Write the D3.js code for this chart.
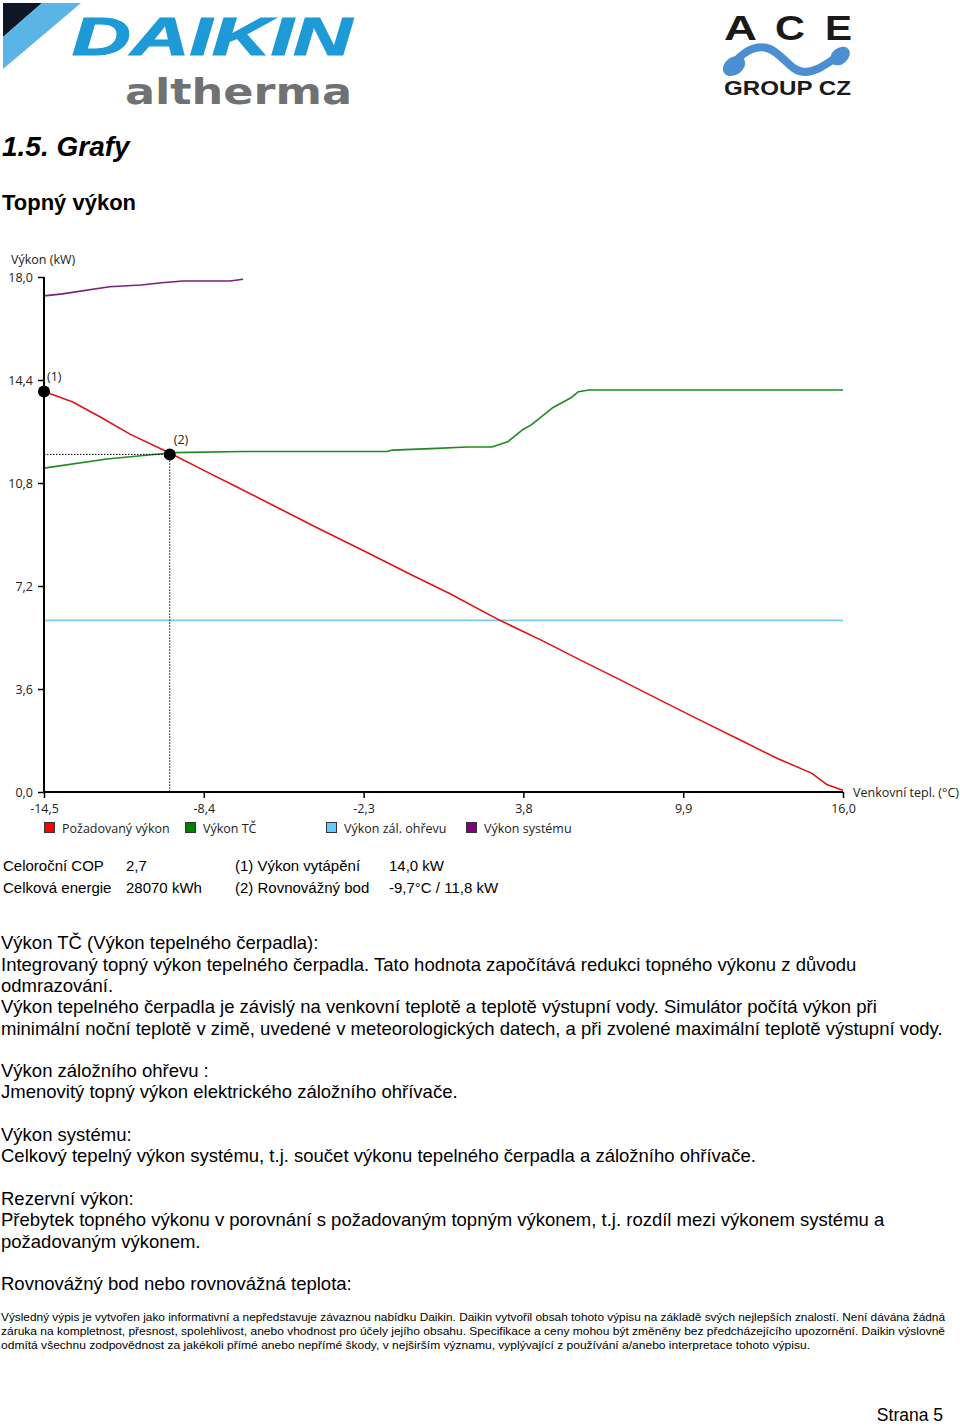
<!DOCTYPE html>
<html>
<head>
<meta charset="utf-8">
<script src="https://cdn.jsdelivr.net/npm/d3@7"></script>
<style>
  html,body{margin:0;padding:0;background:#fff;}
  svg{display:block;}
</style>
</head>
<body>
<svg id="page" width="960" height="1426"></svg>
<script>
// ---------- DATA ----------
const tempTicks = [-14.5, -8.4, -2.3, 3.8, 9.9, 16.0];
const powerTicks = [0, 3.6, 7.2, 10.8, 14.4, 18.0];

const requiredTemp  = [-14.5,-13.4,-12.3,-11.2,-9.7,-8.4,-7.0,-5.5,-4.0,-2.3,-0.5,1.0,2.9,4.5,6.0,7.5,9.0,10.5,12.0,13.5,14.8,15.4,16.0];
const requiredPower = [14.0,13.63,13.08,12.5,11.85,11.24,10.6,9.9,9.2,8.43,7.6,6.93,6.0,5.3,4.6,3.92,3.22,2.53,1.85,1.17,0.66,0.25,0.06];

const hpTemp  = [-14.5,-12.1,-9.7,-9.5,-6.9,-1.4,-1.2,0.5,1.65,2.6,3.2,3.75,4.1,4.9,5.6,5.9,6.3,16.0];
const hpPower = [11.32,11.64,11.85,11.86,11.9,11.9,11.95,12.01,12.06,12.06,12.24,12.65,12.83,13.42,13.77,13.99,14.05,14.05];

const backupTemp  = [-14.5, 16.0];
const backupPower = [6.0, 6.0];

const systemTemp  = [-14.5,-13.8,-12.0,-10.8,-10.0,-9.2,-7.4,-6.9];
const systemPower = [17.34,17.41,17.66,17.72,17.8,17.86,17.86,17.92];

const designPoint  = {t: -14.5, p: 14.0, label: "(1)"};
const balancePoint = {t: -9.7,  p: 11.8, label: "(2)"};

const legendLabels = ["Požadovaný výkon", "Výkon TČ", "Výkon zál. ohřevu", "Výkon systému"];
const legendColors = ["#ff0000", "#008000", "#66ccff", "#800080"];
const lineColors   = ["#e01414", "#1f8a1f", "#7cc8ee", "#7a1f7a"];

const tableRows = [
  ["Celoroční COP", "2,7", "(1) Výkon vytápění", "14,0 kW"],
  ["Celková energie", "28070 kWh", "(2) Rovnovážný bod", "-9,7°C / 11,8 kW"]
];

const bodyLines = [
  ["Výkon TČ (Výkon tepelného čerpadla):", 943],
  ["Integrovaný topný výkon tepelného čerpadla. Tato hodnota započítává redukci topného výkonu z důvodu", 965],
  ["odmrazování.", 986],
  ["Výkon tepelného čerpadla je závislý na venkovní teplotě a teplotě výstupní vody. Simulátor počítá výkon při", 1007],
  ["minimální noční teplotě v zimě, uvedené v meteorologických datech, a při zvolené maximální teplotě výstupní vody.", 1029],
  ["Výkon záložního ohřevu :", 1071],
  ["Jmenovitý topný výkon elektrického záložního ohřívače.", 1092],
  ["Výkon systému:", 1135],
  ["Celkový tepelný výkon systému, t.j. součet výkonu tepelného čerpadla a záložního ohřívače.", 1156],
  ["Rezervní výkon:", 1199],
  ["Přebytek topného výkonu v porovnání s požadovaným topným výkonem, t.j. rozdíl mezi výkonem systému a", 1220],
  ["požadovaným výkonem.", 1242],
  ["Rovnovážný bod nebo rovnovážná teplota:", 1284]
];

const footerLines = [
  ["Výsledný výpis je vytvořen jako informativní a nepředstavuje závaznou nabídku Daikin. Daikin vytvořil obsah tohoto výpisu na základě svých nejlepších znalostí. Není dávána žádná", 1317, 944],
  ["záruka na kompletnost, přesnost, spolehlivost, anebo vhodnost pro účely jejího obsahu. Specifikace a ceny mohou být změněny bez předcházejícího upozornění. Daikin výslovně", 1331, 944],
  ["odmítá všechnu zodpovědnost za jakékoli přímé anebo nepřímé škody, v nejširším významu, vyplývající z používání a/anebo interpretace tohoto výpisu.", 1345, 809]
];

// ---------- DRAW ----------
const svg = d3.select("#page");
const axisFont = "'Open Sans', 'Noto Sans', sans-serif";
const docFont = "'Liberation Sans', Arial, sans-serif";

// Logos
const logo = svg.append("g");
logo.append("polygon").attr("points", "3,3 42,3 3,37").attr("fill", "#0d1726");
logo.append("polygon").attr("points", "42,3 81,3 3,69 3,37").attr("fill", "#5ab4e5");
logo.append("text").attr("x", 72).attr("y", 55).text("DAIKIN")
  .attr("font-family", docFont).attr("font-weight", "bold").attr("font-style", "italic")
  .attr("font-size", 54).attr("fill", "#1e9ad6").attr("stroke", "#1e9ad6").attr("stroke-width", 1.2)
  .attr("textLength", 280).attr("lengthAdjust", "spacingAndGlyphs");
logo.append("text").attr("x", 125).attr("y", 104).text("altherma")
  .attr("font-family", "'DejaVu Sans', sans-serif").attr("font-weight", "bold").attr("font-size", 36).attr("fill", "#707173")
  .attr("textLength", 227).attr("lengthAdjust", "spacingAndGlyphs");

const ace = svg.append("g");
[["A", 724, 33], ["C", 775, 30], ["E", 825, 27]].forEach(([ch, x, w]) => {
  ace.append("text").attr("x", x).attr("y", 40).text(ch)
    .attr("font-family", docFont).attr("font-weight", "bold").attr("font-size", 35)
    .attr("fill", "#1a1a1a").attr("textLength", w).attr("lengthAdjust", "spacingAndGlyphs");
});
ace.append("path").attr("d", "M732,67 C741,52 755,45 767,48 C782,52 790,72 805,72 C820,72 832,58 842,55")
  .attr("fill", "none").attr("stroke", "#4b8fd2").attr("stroke-width", 8).attr("stroke-linecap", "round");
ace.append("ellipse").attr("cx", 734).attr("cy", 66).attr("rx", 12).attr("ry", 9)
  .attr("transform", "rotate(-35 734 66)").attr("fill", "#4b8fd2");
ace.append("ellipse").attr("cx", 840).attr("cy", 56).attr("rx", 11).attr("ry", 8)
  .attr("transform", "rotate(-40 840 56)").attr("fill", "#4b8fd2");
ace.append("text").attr("x", 724).attr("y", 95).text("GROUP CZ")
  .attr("font-family", docFont).attr("font-weight", "bold").attr("font-size", 20)
  .attr("fill", "#1a1a1a").attr("textLength", 127).attr("lengthAdjust", "spacingAndGlyphs");

// Headings
svg.append("text").attr("x", 2).attr("y", 156).text("1.5. Grafy")
  .attr("font-family", docFont).attr("font-weight", "bold").attr("font-style", "italic")
  .attr("font-size", 28).attr("fill", "#000");
svg.append("text").attr("x", 2).attr("y", 210).text("Topný výkon")
  .attr("font-family", docFont).attr("font-weight", "bold")
  .attr("font-size", 22).attr("fill", "#000");

// Scales
const x = d3.scaleLinear().domain([-14.5, 16.0]).range([44, 843]);
const y = d3.scaleLinear().domain([0, 18.0]).range([792, 277]);
const fmt = d => d.toFixed(1).replace(".", ",");

const chart = svg.append("g");

// Series lines
const line = (ts, ps) => d3.line().x((d, i) => x(ts[i])).y((d, i) => y(ps[i]))(ts);
const series = [
  [backupTemp, backupPower, lineColors[2]],
  [systemTemp, systemPower, lineColors[3]],
  [hpTemp, hpPower, lineColors[1]],
  [requiredTemp, requiredPower, lineColors[0]]
];
series.forEach(([ts, ps, c]) => {
  chart.append("path").attr("d", line(ts, ps)).attr("fill", "none")
    .attr("stroke", c).attr("stroke-width", 1.6).attr("stroke-linejoin", "round");
});

// Dotted guide lines for balance point
chart.append("line").attr("x1", x(-14.5)).attr("x2", x(balancePoint.t))
  .attr("y1", y(balancePoint.p)).attr("y2", y(balancePoint.p))
  .attr("stroke", "#000").attr("stroke-width", 1).attr("stroke-dasharray", "1.5,1.5");
chart.append("line").attr("x1", x(balancePoint.t)).attr("x2", x(balancePoint.t))
  .attr("y1", y(balancePoint.p)).attr("y2", y(0))
  .attr("stroke", "#000").attr("stroke-width", 1).attr("stroke-dasharray", "1.5,1.5");

// Axes
const yAxis = d3.axisLeft(y).tickValues(powerTicks).tickFormat(fmt).tickSize(6).tickPadding(5);
const xAxis = d3.axisBottom(x).tickValues(tempTicks).tickFormat(fmt).tickSize(6).tickPadding(6);
const gy = chart.append("g").attr("transform", `translate(${x(-14.5)},0)`).call(yAxis);
const gx = chart.append("g").attr("transform", `translate(0,${y(0)})`).call(xAxis);
[gx, gy].forEach(g => {
  g.select(".domain").attr("stroke", "#000").attr("stroke-width", 2)
    .attr("d", g === gx ? `M${x(-14.5)},0H${x(16)}` : `M0,${y(18)}V${y(0)}`);
  g.selectAll(".tick line").attr("stroke", "#000").attr("stroke-width", 1.5);
  g.selectAll(".tick text").attr("font-family", axisFont).attr("font-size", 12.5).attr("fill", "#222");
});

// Axis titles
chart.append("text").attr("x", 11).attr("y", 264).text("Výkon (kW)")
  .attr("font-family", axisFont).attr("font-size", 12.5).attr("fill", "#222");
chart.append("text").attr("x", 853).attr("y", 797).text("Venkovní tepl. (°C)")
  .attr("font-family", axisFont).attr("font-size", 12.5).attr("fill", "#222");

// Points
[designPoint, balancePoint].forEach((p, i) => {
  chart.append("circle").attr("cx", x(p.t)).attr("cy", y(p.p)).attr("r", 6).attr("fill", "#000");
  chart.append("text").attr("x", x(p.t) + (i === 0 ? 3 : 4)).attr("y", y(p.p) - 10)
    .text(p.label).attr("font-family", axisFont).attr("font-size", 12.5).attr("fill", "#222");
});

// Legend
const legendX = [44, 185, 326, 466];
legendLabels.forEach((lab, i) => {
  chart.append("rect").attr("x", legendX[i] + 0.5).attr("y", 822.5).attr("width", 10).attr("height", 10)
    .attr("fill", legendColors[i]).attr("stroke", "#333").attr("stroke-width", 1);
  chart.append("text").attr("x", legendX[i] + 18).attr("y", 833).text(lab)
    .attr("font-family", axisFont).attr("font-size", 12.5).attr("fill", "#222");
});

// Summary table
const colX = [3, 126, 235, 389];
tableRows.forEach((row, r) => {
  row.forEach((cell, c) => {
    svg.append("text").attr("x", colX[c]).attr("y", 871 + r * 22).text(cell)
      .attr("font-family", docFont).attr("font-size", 15).attr("fill", "#000");
  });
});

// Body text
bodyLines.forEach(([t, cy]) => {
  svg.append("text").attr("x", 1).attr("y", cy + 6).text(t)
    .attr("font-family", docFont).attr("font-size", 18.5).attr("fill", "#000");
});

// Footer
footerLines.forEach(([t, cy, w]) => {
  svg.append("text").attr("x", 1).attr("y", cy + 4).text(t)
    .attr("font-family", docFont).attr("font-size", 11).attr("fill", "#000")
    .attr("textLength", w).attr("lengthAdjust", "spacingAndGlyphs");
});

svg.append("text").attr("x", 943).attr("y", 1421).attr("text-anchor", "end").text("Strana 5")
  .attr("font-family", docFont).attr("font-size", 17.5).attr("fill", "#000");
</script>
</body>
</html>
